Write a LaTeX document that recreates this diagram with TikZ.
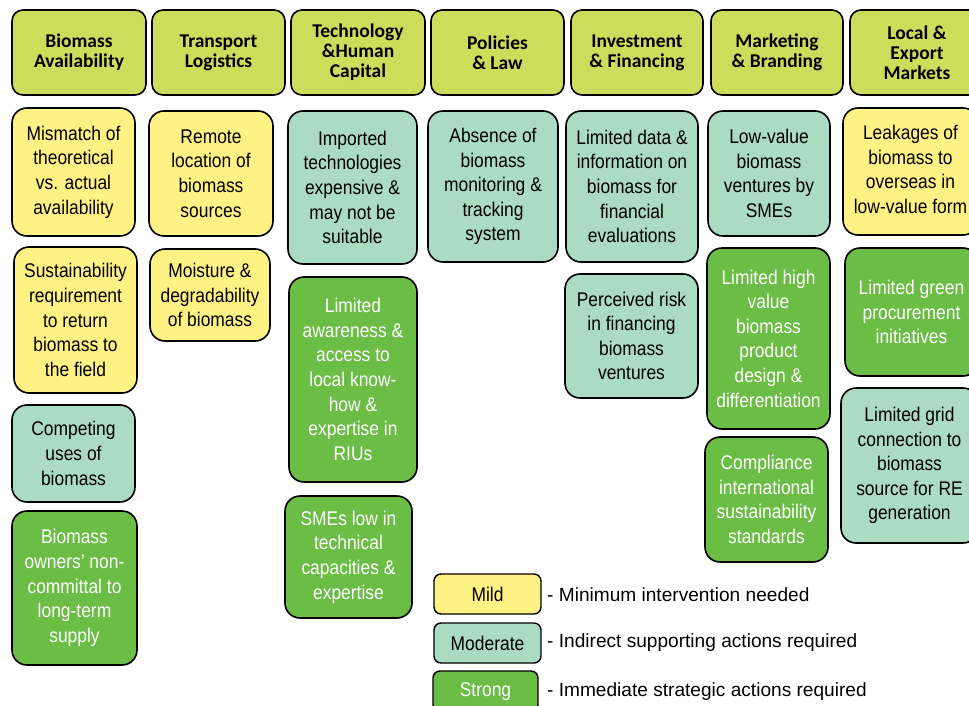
\documentclass[tikz,border=0pt]{standalone}
\usepackage{fontspec}
\setmainfont{Liberation Sans}
\newfontfamily\bodyfont[FakeStretch=0.88]{Liberation Sans}
\newfontfamily\headfont{Carlito}
\definecolor{hdr}{RGB}{204,221,92}
\definecolor{mild}{RGB}{255,242,133}
\definecolor{moder}{RGB}{172,219,196}
\definecolor{strong}{RGB}{107,189,69}
\tikzset{
  cellbox/.style={draw=black, line width=1.6pt, rounded corners=15pt, align=center, inner sep=0pt,
    font=\bodyfont\fontsize{19.8}{24.6}\selectfont},
  hdrbox/.style={cellbox, fill=hdr, rounded corners=11pt,
    font=\headfont\bfseries\fontsize{19.5}{20}\selectfont},
  mildbox/.style={cellbox, fill=mild, text=black},
  modbox/.style={cellbox, fill=moder, text=black},
  strbox/.style={cellbox, fill=strong, text=white},
  legbox/.style={rounded corners=7pt, line width=1.4pt},
  legtext/.style={anchor=west, inner sep=0pt, font=\fontsize{19.1}{22}\selectfont}
}
\newcommand{\cell}[7]{\node[#6, minimum width={#4-#2}, minimum height={#5-#3}] (#1) at ({(#2+#4)/2},{(#3+#5)/2}) {#7};}
\begin{document}
\begin{tikzpicture}[x=1pt,y=-1pt]
\useasboundingbox (0,0) rectangle (969,706);
\clip (0,0) rectangle (969,706);
% headers
\cell{H1}{12}{10}{146}{95}{hdrbox}{Biomass\\Availability}
\cell{H2}{152}{10}{285}{95}{hdrbox}{Transport\\Logistics}
\cell{H3}{291}{10}{425}{95}{hdrbox}{Technology\\\&Human\\Capital}
\cell{H4}{431}{10}{564}{95}{hdrbox}{Policies\\\& Law}
\cell{H5}{571}{10}{703}{95}{hdrbox}{Investment\\\& Financing}
\cell{H6}{711}{10}{843}{95}{hdrbox}{Marketing\\\& Branding}
\cell{H7}{850}{10}{984}{95}{hdrbox}{Local \&\\Export\\Markets}
% column 1
\cell{m1}{12}{108}{135}{236}{mildbox}{Mismatch of\\theoretical\\vs. actual\\availability}
\cell{m2}{14}{247}{137}{393}{mildbox}{Sustainability\\requirement\\to return\\biomass to\\the field}
\cell{m3}{12}{405}{135}{502}{modbox}{Competing\\uses of\\biomass}
\cell{m4}{12}{511}{137}{665}{strbox}{Biomass\\owners’ non-\\committal to\\long-term\\supply}
% column 2
\cell{t1}{149}{111}{273}{236}{mildbox}{Remote\\location of\\biomass\\sources}
\cell{t2}{150}{249}{270}{341}{mildbox}{Moisture \&\\degradability\\of biomass}
% column 3
\cell{h1}{288}{111}{417}{264}{modbox}{Imported\\technologies\\expensive \&\\may not be\\suitable}
\cell{h2}{289}{277}{417}{482}{strbox}{Limited\\awareness \&\\access to\\local know-\\how \&\\expertise in\\RIUs}
\cell{h3}{285}{496}{412}{618}{strbox}{SMEs low in\\technical\\capacities \&\\expertise}
% column 4
\cell{p1}{428}{111}{558}{262}{modbox}{Absence of\\biomass\\monitoring \&\\tracking\\system}
% column 5
\cell{f1}{566}{111}{698}{262}{modbox}{Limited data \&\\information on\\biomass for\\financial\\evaluations}
\cell{f2}{565}{274}{698}{398}{modbox}{Perceived risk\\in financing\\biomass\\ventures}
% column 6
\cell{b1}{708}{111}{830}{236}{modbox}{Low-value\\biomass\\ventures by\\SMEs}
\cell{b2}{707}{248}{830}{429}{strbox}{Limited high\\value\\biomass\\product\\design \&\\differentiation}
\cell{b3}{705}{437}{828}{562}{strbox}{Compliance\\international\\sustainability\\standards}
% column 7
\cell{e1}{843}{108}{978}{235}{mildbox}{\raisebox{6pt}{\begin{tabular}{@{}c@{}}Leakages of\\biomass to\\overseas in\\low-value form\end{tabular}}}
\cell{e2}{845}{248}{978}{376}{strbox}{Limited green\\procurement\\initiatives}
\cell{e3}{841}{388}{978}{543}{modbox}{Limited grid\\connection to\\biomass\\source for RE\\generation}
% legend
\cell{lm}{434}{574}{541}{614}{mildbox,legbox}{Mild}
\cell{lo}{434}{623}{541}{663}{modbox,legbox}{Moderate}
\cell{ls}{433}{671}{538}{712}{strbox,legbox}{Strong}
\node[legtext] (tm) at (547,595) {- Minimum intervention needed};
\node[legtext] (to) at (547,643) {- Indirect supporting actions required};
\node[legtext] (ts) at (547,692) {- Immediate strategic actions required};
\end{tikzpicture}
\end{document}
